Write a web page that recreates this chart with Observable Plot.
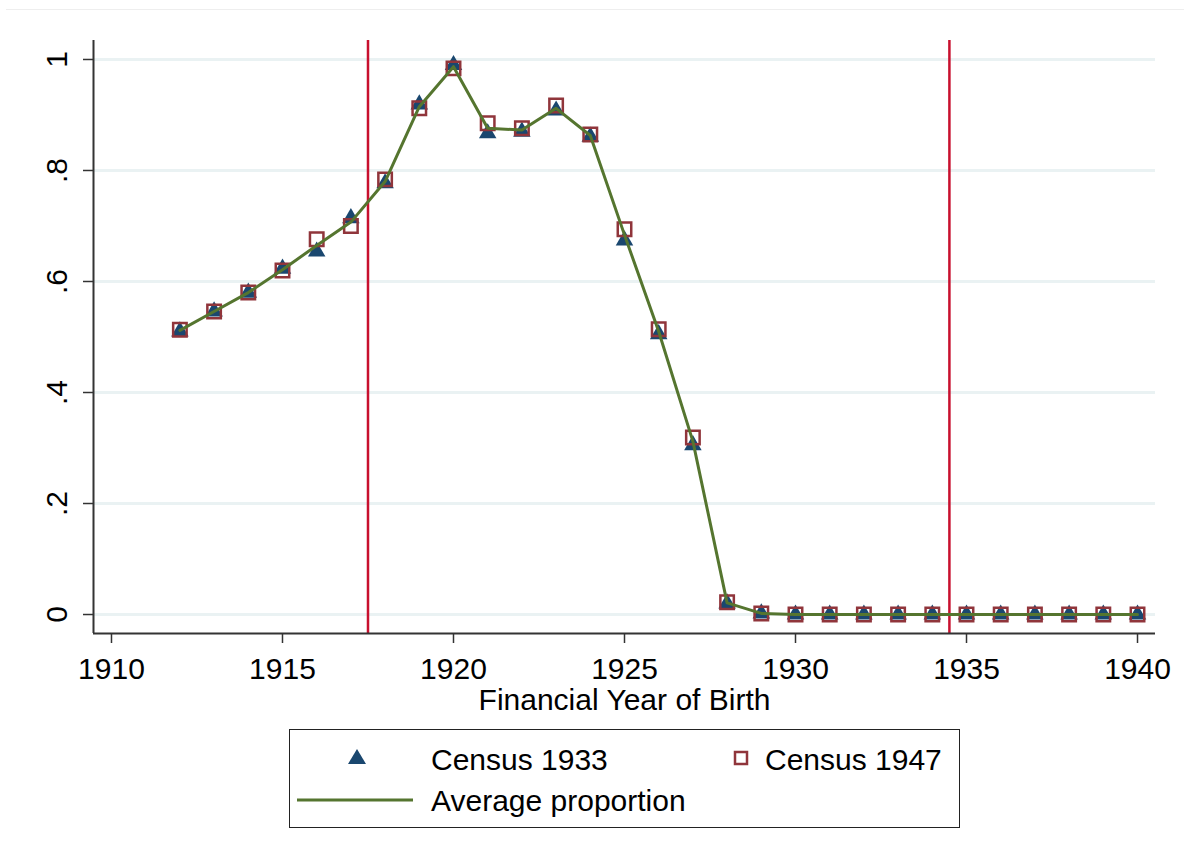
<!DOCTYPE html>
<html>
<head>
<meta charset="utf-8">
<script src="https://cdn.jsdelivr.net/npm/d3@7"></script>
<script src="https://cdn.jsdelivr.net/npm/@observablehq/plot@0.6"></script>
<style>
  html, body { margin: 0; padding: 0; background: #fff; }
  body { width: 1184px; height: 861px; overflow: hidden; font-family: "Liberation Sans", Arial, sans-serif; }
  #wrap { position: relative; width: 1184px; height: 861px; }
  #topline { position: absolute; left: 6px; top: 9px; width: 1178px; height: 0; border-top: 1px solid #eeeeee; }
  #chart { position: absolute; left: 0; top: 0; }
  #legend { position: absolute; left: 289px; top: 729px; width: 669px; height: 97px; border: 1px solid #222; box-sizing: content-box; }
  .lg { position: absolute; font-size: 30px; color: #000; line-height: 1; white-space: nowrap; }
  .sym { position: absolute; }
</style>
</head>
<body>
<div id="wrap">
  <div id="topline"></div>
  <div id="chart"></div>
  <div id="legend"></div>
</div>
<script>
// ---- Data ----
const years = [1912,1913,1914,1915,1916,1917,1918,1919,1920,1921,1922,1923,1924,1925,1926,1927,1928,1929,1930,1931,1932,1933,1934,1935,1936,1937,1938,1939,1940];
const census1933 = [0.510,0.546,0.580,0.623,0.654,0.714,0.777,0.919,0.990,0.867,0.870,0.908,0.861,0.674,0.505,0.305,0.020,0.002,0,0,0,0,0,0,0,0,0,0,0];
const census1947 = [0.513,0.546,0.580,0.620,0.676,0.700,0.784,0.912,0.984,0.885,0.876,0.917,0.865,0.694,0.514,0.319,0.022,0.002,0,0,0,0,0,0,0,0,0,0,0];
const averageProportion = [0.512,0.546,0.580,0.621,0.665,0.707,0.780,0.915,0.987,0.876,0.873,0.912,0.863,0.684,0.510,0.312,0.021,0.002,0,0,0,0,0,0,0,0,0,0,0];
const cutoffs = [1917.5, 1934.5];
const xTicks = [1910,1915,1920,1925,1930,1935,1940];
const yTicks = [0,0.2,0.4,0.6,0.8,1];
const yTickLabels = ["0",".2",".4",".6",".8","1"];
const xLabel = "Financial Year of Birth";
const legendLabels = ["Census 1933","Census 1947","Average proportion"];

const colors = {c1933: "#1a476f", c1947: "#90353b", avg: "#55752f", cut: "#c8102e", grid: "#eaf2f3"};

const rows = years.map((y, i) => ({year: y, c1933: census1933[i], c1947: census1947[i], avg: averageProportion[i]}));
const xDomain = [1909.474, 1940.526];
const yDomain = [-0.0342, 1.0342];

const font = "Liberation Sans, Arial, sans-serif";

const plot = Plot.plot({
  width: 1184,
  height: 720,
  marginLeft: 93,
  marginRight: 29,
  marginTop: 40,
  marginBottom: 87,
  style: {fontFamily: font, background: "transparent", color: "#000"},
  x: {domain: xDomain},
  y: {domain: yDomain},
  marks: [
    Plot.gridY(yTicks, {stroke: colors.grid, strokeOpacity: 1, strokeWidth: 3}),
    Plot.ruleX(cutoffs, {stroke: colors.cut, strokeWidth: 2.5}),
    Plot.ruleX([xDomain[0]], {stroke: "#333", strokeWidth: 2}),
    Plot.ruleY([yDomain[0]], {stroke: "#333", strokeWidth: 2}),
    Plot.axisX(xTicks, {tickSize: 10, tickPadding: 14, fontSize: 30, stroke: "#333", strokeWidth: 1.5, tickFormat: d => String(d), label: null}),
    Plot.axisY(yTicks, {tickSize: 10, tickFormat: () => "", stroke: "#333", strokeWidth: 1.5, label: null}),
    Plot.text(yTicks, {y: d => d, frameAnchor: "left", dx: -36, rotate: -90, text: (d, i) => yTickLabels[i], fontSize: 30, textAnchor: "middle", lineAnchor: "middle", fill: "#000"}),
    Plot.text([xLabel], {frameAnchor: "bottom", dy: 67, text: d => d, fontSize: 30, lineAnchor: "middle", fill: "#000"}),
    Plot.dot(rows, {x: "year", y: "c1933", symbol: "triangle", r: 6.5, fill: colors.c1933, stroke: "none"}),
    Plot.dot(rows, {x: "year", y: "c1947", symbol: "square", r: 7.6, fill: "none", stroke: colors.c1947, strokeWidth: 2.5}),
    Plot.line(rows, {x: "year", y: "avg", stroke: colors.avg, strokeWidth: 3})
  ]
});
document.getElementById("chart").appendChild(plot);

// ---- Legend ----
const lg = document.getElementById("legend");
lg.innerHTML = `
  <svg class="sym" style="left:57px;top:18px" width="20" height="17"><polygon points="10,1 19,16 1,16" fill="${colors.c1933}"/></svg>
  <div class="lg" style="left:141px;top:15px">${legendLabels[0]}</div>
  <svg class="sym" style="left:443px;top:20px" width="16" height="16"><rect x="2" y="2" width="12" height="12" fill="none" stroke="${colors.c1947}" stroke-width="2.5"/></svg>
  <div class="lg" style="left:475px;top:15px">${legendLabels[1]}</div>
  <svg class="sym" style="left:7px;top:68px" width="116" height="4"><line x1="0" y1="2" x2="116" y2="2" stroke="${colors.avg}" stroke-width="3"/></svg>
  <div class="lg" style="left:141px;top:56px">${legendLabels[2]}</div>
`;
</script>
</body>
</html>
